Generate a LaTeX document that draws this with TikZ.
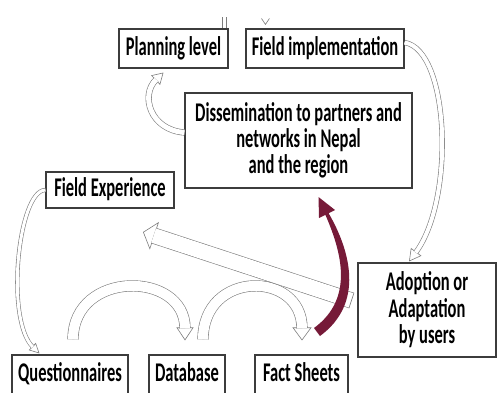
\documentclass[tikz,border=0pt]{standalone}
\usepackage{fontspec}
\newfontfamily\boxfont{Carlito}[FakeStretch=0.61]
\usetikzlibrary{arrows.meta,calc}
\definecolor{boxline}{RGB}{60,60,60}
\definecolor{arrline}{RGB}{125,125,125}
\definecolor{maroon}{RGB}{118,26,56}
\begin{document}
\begin{tikzpicture}[x=1pt,y=-1pt,
  box/.style={draw=boxline,line width=1.1pt,fill=white,inner sep=0pt,
    font={\boxfont\bfseries\fontsize{27}{26}\selectfont},align=center},
  oneline/.style={box,text height=19pt,text depth=6pt},
  barrow/.style n args={4}{draw=arrline,line width=0.6pt,
    -{Triangle[fill=white,length=#2,width=#3]},
    postaction={draw=arrline,double=white,double distance=#1,line width=0.6pt,
      arrows=-,shorten >=#4}},
  frag/.style={draw=arrline,line width=0.6pt}]
\useasboundingbox (0,0) rectangle (497,392);

% boxes
\node[oneline,minimum width=109pt,minimum height=39pt] (plan) at (173.5,48.5) {Planning level};
\node[oneline,minimum width=158pt,minimum height=39pt] (field) at (325,48.5) {Field implementation};
\node[box,minimum width=227pt,minimum height=95pt] (dis) at (298.5,140.5)
  {Dissemination to partners and\\networks in Nepal\\and the region};
\node[oneline,minimum width=128pt,minimum height=36pt] (fexp) at (110,190) {Field Experience};
\node[box,minimum width=138pt,minimum height=94pt,font={\boxfont\bfseries\fontsize{27}{26.5}\selectfont}] (adopt) at (427,310)
  {Adoption or\\Adaptation\\by users};
\node[oneline,minimum width=116pt,minimum height=39pt] (quest) at (70,374.5) {Questionnaires};
\node[oneline,minimum width=76pt,minimum height=39pt] (db) at (187,374.5) {Database};
\node[oneline,minimum width=93pt,minimum height=39pt] (fs) at (301.5,374.5) {Fact Sheets};

% fragments of arrows entering from above
\coordinate (pa) at ($(plan.north east)+(-6,-11)$);
\coordinate (pb) at ($(plan.north east)+(-2,-11)$);
\draw[frag] (pa) -- (pa |- plan.north);
\draw[frag] (pb) -- (pb |- plan.north);
\coordinate (fa) at ($(field.north west)+(16,-10)$);
\draw[frag] (fa) -- ++(4,6) -- ++(4,-6);

% outline block arrows
\draw[barrow={10pt}{13pt}{17pt}{12.2pt}] ($(quest.north)+(3,-15)$)
  .. controls +(0,-70) and +(0,-70) .. ($(db.north)+(-2,-14)$);
\draw[barrow={10pt}{13pt}{19pt}{12.2pt}] ($(db.north)+(16,-15)$)
  .. controls +(0,-70) and +(0,-70) .. ($(fs.north)+(0.5,-14)$);
\draw[barrow={3pt}{10pt}{10pt}{9.2pt}] (fexp.west)
  .. controls (18,190) and (5,320) .. ($(quest.north west)+(28,-1)$);
\draw[barrow={4pt}{12pt}{13pt}{11.2pt}] ($(field.east)+(0,-6)$)
  .. controls (450,50) and (455,200) .. ($(adopt.north)+(-18,-1)$);
\draw[barrow={5pt}{11pt}{13pt}{10.2pt}] ($(dis.west)+(0,-8)$)
  .. controls (150,130) and (140,95) .. ($(plan.south)+(-10,4)$);
\coordinate (bs) at ($(adopt.west)+(-6,-9.5)$);
\coordinate (bt) at ($(fexp.south)+(33,23.5)$);
\draw[barrow={15pt}{12pt}{29pt}{11.2pt}] (bs) -- (bt);
\draw[frag] ($(bs)!8.1pt!90:(bt)$) -- ($(bs)!8.1pt!-90:(bt)$);

% dark red curved arrow from Fact Sheets up to Dissemination
\fill[maroon] (320,336) .. controls (365,303) and (350,250) .. (328.6,213.2)
  -- (335,210) -- (318.5,197) -- (319,218) -- (325.4,214.8)
  .. controls (341,251) and (355,298) .. (314,328) -- cycle;
\end{tikzpicture}
\end{document}
